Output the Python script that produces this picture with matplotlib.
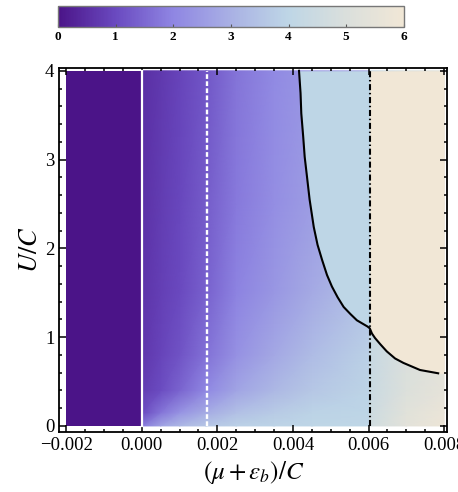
import numpy as np
from matplotlib import pyplot as plt
from matplotlib import rcParams
from matplotlib.colors import LinearSegmentedColormap, Normalize
from matplotlib.ticker import MultipleLocator

rcParams['font.family'] = 'Liberation Serif'
rcParams['mathtext.fontset'] = 'stix'

# colour scale
cbarTicks = [0, 1, 2, 3, 4, 5, 6]
cbarColors = ['#4b1488', '#6a4ac0', '#8f86e3', '#a9b1e4', '#bed6e6', '#dadfdc', '#f1e7d6']

# plot range (data region)
xMin, xMax = -0.002, 0.008
uMin, uMax = 0.0, 4.0

# special lines
zeroX = 0.0
dashedX = 0.00173
kinkX = 0.00603

# values below the transition line, left of the dash-dot line
gridU = [0.0, 0.15, 0.4, 0.8, 1.5, 2.5, 4.0]
gridXLeft = [0.0, 0.0005, 0.001, 0.0017, 0.0025, 0.0035, 0.0045, 0.00603]
gridLeft = [
    [1.8, 2.7, 3.2, 3.6, 3.85, 3.95, 4.0, 4.05],
    [1.0, 1.7, 2.3, 2.9, 3.4, 3.7, 3.9, 4.0],
    [0.75, 1.05, 1.45, 2.05, 2.7, 3.2, 3.6, 3.95],
    [0.65, 0.9, 1.15, 1.65, 2.25, 2.8, 3.3, 3.85],
    [0.6, 0.8, 1.0, 1.4, 1.95, 2.4, 2.85, 3.5],
    [0.55, 0.75, 0.95, 1.3, 1.8, 2.2, 2.55, 3.0],
    [0.5, 0.7, 0.9, 1.2, 1.7, 2.1, 2.4, 2.8],
]
# right of the dash-dot line
gridXRight = [0.00603, 0.007, 0.008]
gridRight = [
    [4.6, 5.4, 5.8],
    [4.5, 5.3, 5.7],
    [4.4, 5.1, 5.5],
    [4.3, 5.0, 5.3],
    [4.3, 5.0, 5.3],
    [4.3, 5.0, 5.3],
    [4.3, 5.0, 5.3],
]
leftValue = 0      # x < 0
blueValue = 4      # above the line, left of dash-dot
beigeValue = 6     # above the line, right of dash-dot

# transition line
curveX = [0.00416, 0.00420, 0.00422, 0.00427, 0.00431, 0.00437, 0.00444, 0.00455, 0.00465,
          0.00477, 0.00490, 0.00503, 0.00518, 0.00534, 0.00552, 0.00569, 0.00587, 0.00597,
          0.00603, 0.00609, 0.00617, 0.00631, 0.00648, 0.00670, 0.00692, 0.00714, 0.00736,
          0.00762, 0.00784]
curveU = [4.0, 3.75, 3.52, 3.26, 3.03, 2.81, 2.55, 2.24, 2.04,
          1.87, 1.70, 1.57, 1.45, 1.34, 1.26, 1.19, 1.145, 1.12,
          1.10, 1.04, 0.99, 0.92, 0.84, 0.76, 0.71, 0.67, 0.63,
          0.61, 0.593]

xTicks = [-0.002, 0.0, 0.002, 0.004, 0.006, 0.008]
xTickLabels = ['\u22120.002', '0.000', '0.002', '0.004', '0.006', '0.008']
yTicks = [0, 1, 2, 3, 4]

cmap = LinearSegmentedColormap.from_list('dens', cbarColors)
norm = Normalize(vmin=0, vmax=6)

fig = plt.figure(figsize=(4.58, 4.92), dpi=100)
ax = fig.add_axes([0.1295, 0.122, 0.847, 0.739])

# background map
mesh = ax.pcolormesh(gridXLeft, gridU, np.array(gridLeft), cmap=cmap, norm=norm, shading='gouraud')
ax.pcolormesh(gridXRight, gridU, np.array(gridRight), cmap=cmap, norm=norm, shading='gouraud')
ax.fill_between([xMin, zeroX], uMin, uMax, color=cmap(norm(leftValue)), lw=0)

# constant regions above the line
k = curveX.index(kinkX) + 1
ax.fill_betweenx(curveU[:k], curveX[:k], kinkX, color=cmap(norm(blueValue)), lw=0)
rightX = curveX[k - 1:] + [xMax]
rightU = curveU[k - 1:] + [curveU[-1]]
ax.fill_between(rightX, rightU, uMax, color=cmap(norm(beigeValue)), lw=0)

# lines
ax.plot([zeroX, zeroX], [uMin, uMax], color='white', lw=1.6)
ax.plot([dashedX, dashedX], [uMin, uMax], color='white', lw=1.7, dashes=(2, 1))
ax.plot([kinkX, kinkX], [uMin, uMax], color='black', lw=1.5, dashes=(2.9, 1.3, 0.7, 1.3))
ax.plot(curveX, curveU, color='black', lw=1.5, solid_joinstyle='round')

ax.set_xlim(-0.00218, 0.00808)
ax.set_ylim(-0.068, 4.027)
ax.set_xticks(xTicks)
ax.set_xticklabels(xTickLabels)
ax.set_yticks(yTicks)
ax.xaxis.set_minor_locator(MultipleLocator(0.0005))
ax.yaxis.set_minor_locator(MultipleLocator(0.2))
ax.tick_params(which='both', direction='in', top=True, right=True, labelsize=13.5, width=1.1)
ax.tick_params(which='major', length=5)
ax.tick_params(which='minor', length=2.5)
for s in ax.spines.values():
    s.set_linewidth(1.3)
ax.set_xlabel(r'$(\mu + \epsilon_b)/C$', fontsize=18, labelpad=4)
ax.set_ylabel(r'$U/C$', fontsize=19, labelpad=2)

# colour bar
cax = fig.add_axes([0.1266, 0.945, 0.755, 0.043])
cb = fig.colorbar(mesh, cax=cax, orientation='horizontal', ticks=cbarTicks)
cb.outline.set_edgecolor('#777777')
cb.outline.set_linewidth(1.0)
cax.tick_params(direction='in', length=2.5, width=0.8, color='#555555', labelsize=9.5, pad=3)
for t in cax.get_xticklabels():
    t.set_fontweight('bold')

fig.savefig('out.png', dpi=100)
